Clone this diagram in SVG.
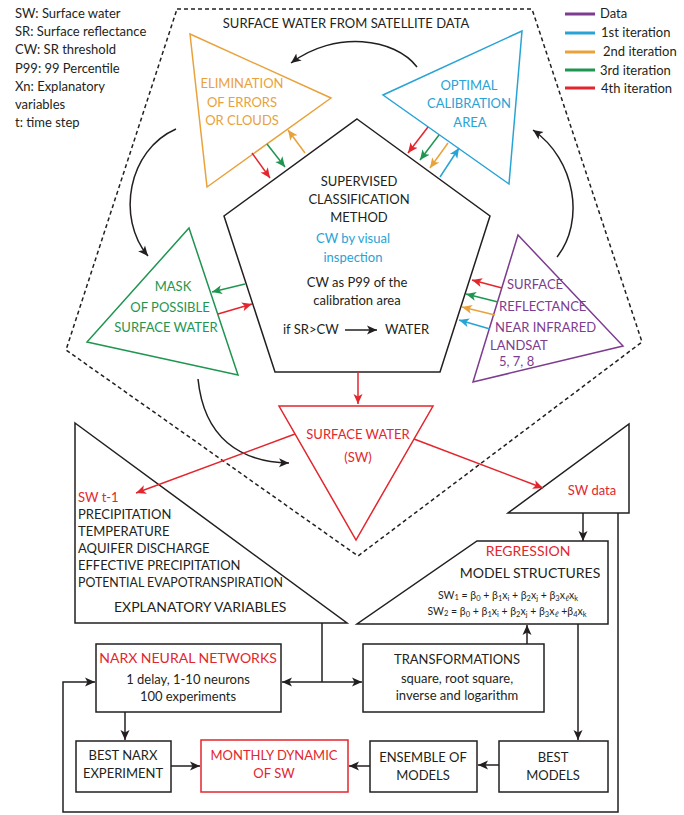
<svg xmlns="http://www.w3.org/2000/svg" width="684" height="815" viewBox="0 0 684 815">
<defs>
<style>
.t{font-family:Lato,"Open Sans","Liberation Sans",sans-serif;font-size:13px;fill:#231f20}
.c{text-anchor:middle}
.k{fill:#231f20}.pu{fill:#7d3c8f}.bl{fill:#27a3d6}.or{fill:#e9a23b}.gr{fill:#1e9650}.rd{fill:#e3262d}
.sh{fill:#fff;stroke-width:1.5}
.ln{fill:none;stroke-width:1.5}
.eq{font-size:10.5px}
.sb{font-size:7.5px}
</style>
<marker id="ak" viewBox="0 0 10 10" refX="10" refY="5" markerWidth="10" markerHeight="10" markerUnits="userSpaceOnUse" orient="auto"><path d="M0,0.5 L10,5 L0,9.5 L2.5,5 z" fill="#231f20"/></marker>
<marker id="ar" viewBox="0 0 10 10" refX="10" refY="5" markerWidth="10" markerHeight="10" markerUnits="userSpaceOnUse" orient="auto"><path d="M0,0.5 L10,5 L0,9.5 L2.5,5 z" fill="#e3262d"/></marker>
<marker id="ag" viewBox="0 0 10 10" refX="10" refY="5" markerWidth="10" markerHeight="10" markerUnits="userSpaceOnUse" orient="auto"><path d="M0,0.5 L10,5 L0,9.5 L2.5,5 z" fill="#1e9650"/></marker>
<marker id="ao" viewBox="0 0 10 10" refX="10" refY="5" markerWidth="10" markerHeight="10" markerUnits="userSpaceOnUse" orient="auto"><path d="M0,0.5 L10,5 L0,9.5 L2.5,5 z" fill="#e9a23b"/></marker>
<marker id="ab" viewBox="0 0 10 10" refX="10" refY="5" markerWidth="10" markerHeight="10" markerUnits="userSpaceOnUse" orient="auto"><path d="M0,0.5 L10,5 L0,9.5 L2.5,5 z" fill="#27a3d6"/></marker>
</defs>
<rect width="684" height="815" fill="#fff"/>

<g id="legend-abbrev">
<text class="t" x="15" y="18">SW: Surface water</text>
<text class="t" x="15" y="36">SR: Surface reflectance</text>
<text class="t" x="15" y="54">CW: SR threshold</text>
<text class="t" x="15" y="73">P99: 99 Percentile</text>
<text class="t" x="15" y="91">Xn: Explanatory</text>
<text class="t" x="15" y="109">variables</text>
<text class="t" x="15" y="127">t: time step</text>
</g>

<g id="legend-colors">
<line x1="565" y1="14" x2="595" y2="14" stroke="#7d3c8f" stroke-width="3"/>
<line x1="565" y1="33" x2="595" y2="33" stroke="#27a3d6" stroke-width="3"/>
<line x1="565" y1="52" x2="595" y2="52" stroke="#e9a23b" stroke-width="3"/>
<line x1="565" y1="70" x2="595" y2="70" stroke="#1e9650" stroke-width="3"/>
<line x1="565" y1="88" x2="595" y2="88" stroke="#e3262d" stroke-width="3"/>
<text class="t" x="600" y="18">Data</text>
<text class="t" x="601" y="37">1st iteration</text>
<text class="t" x="603" y="56">2nd iteration</text>
<text class="t" x="600" y="75">3rd iteration</text>
<text class="t" x="601" y="93">4th iteration</text>
</g>

<g id="satellite-frame">
<polygon points="177,9 532,9 642,342 358,556 66,350" fill="none" stroke="#231f20" stroke-width="1.5" stroke-dasharray="4 3"/>
<text class="t c" x="346" y="28">SURFACE WATER FROM SATELLITE DATA</text>
</g>

<g id="elimination">
<polygon class="sh" points="190,34 331,98 207,187" stroke="#e9a23b"/>
<text class="t c or" x="242" y="88">ELIMINATION</text>
<text class="t c or" x="242" y="107">OF ERRORS</text>
<text class="t c or" x="242" y="125">OR CLOUDS</text>
</g>

<g id="optimal">
<polygon class="sh" points="522,31 383,95 509,184" stroke="#27a3d6"/>
<text class="t c bl" x="469" y="90">OPTIMAL</text>
<text class="t c bl" x="469" y="108">CALIBRATION</text>
<text class="t c bl" x="470" y="127">AREA</text>
</g>

<g id="classification">
<polygon class="sh" points="357,119 490,216 440,372 275,372 224,216" stroke="#231f20"/>
<text class="t c" x="359" y="186">SUPERVISED</text>
<text class="t c" x="359" y="204">CLASSIFICATION</text>
<text class="t c" x="359" y="222">METHOD</text>
<text class="t c bl" x="353" y="243">CW by visual</text>
<text class="t c bl" x="353" y="262">inspection</text>
<text class="t c" x="357" y="287">CW as P99 of the</text>
<text class="t c" x="357" y="305">calibration area</text>
<text class="t" x="283" y="334">if SR&gt;CW</text>
<line x1="345" y1="330" x2="377" y2="330" stroke="#231f20" stroke-width="1.5" marker-end="url(#ak)"/>
<text class="t" x="385" y="334">WATER</text>
</g>

<g id="mask">
<polygon class="sh" points="189,228 238,375 87,342" stroke="#1e9650"/>
<text class="t c gr" x="173" y="291">MASK</text>
<text class="t c gr" x="170" y="312">OF POSSIBLE</text>
<text class="t c gr" x="166" y="332">SURFACE WATER</text>
</g>

<g id="reflectance">
<polygon class="sh" points="518,235 623,346 473,382" stroke="#7d3c8f"/>
<text class="t pu" x="507" y="289">SURFACE</text>
<text class="t pu" x="499" y="311">REFLECTANCE</text>
<text class="t pu" x="495" y="332">NEAR INFRARED</text>
<text class="t pu" x="490" y="350">LANDSAT</text>
<text class="t pu" x="499" y="366">5, 7, 8</text>
</g>

<g id="surface-water">
<polygon class="sh" points="279,406 433,406 356,540" stroke="#e3262d"/>
<text class="t c rd" x="358" y="439">SURFACE WATER</text>
<text class="t c rd" x="358" y="462">(SW)</text>
</g>

<g id="sw-data">
<polygon class="sh" points="629,424 629,513 508,513" stroke="#231f20"/>
<text class="t c rd" x="592" y="495">SW data</text>
</g>

<g id="explanatory">
<polygon class="sh" points="75,423 347,623 75,623" stroke="#231f20"/>
<text class="t rd" x="78" y="502">SW t-1</text>
<text class="t" x="78" y="519">PRECIPITATION</text>
<text class="t" x="78" y="536">TEMPERATURE</text>
<text class="t" x="78" y="553">AQUIFER DISCHARGE</text>
<text class="t" x="78" y="570">EFFECTIVE PRECIPITATION</text>
<text class="t" x="78" y="587" textLength="205" lengthAdjust="spacingAndGlyphs">POTENTIAL EVAPOTRANSPIRATION</text>
<text class="t" x="114" y="612" style="font-size:14px">EXPLANATORY VARIABLES</text>
</g>

<g id="regression">
<polygon class="sh" points="477,541 608,541 608,624 357,624" stroke="#231f20"/>
<text class="t c rd" x="528" y="556" style="font-size:14px">REGRESSION</text>
<text class="t c" x="530" y="578" style="font-size:14px">MODEL STRUCTURES</text>
<text class="t c eq" x="508" y="599">SW<tspan class="sb" dy="1">1</tspan><tspan dy="-1"> = β</tspan><tspan class="sb" dy="1.5">0</tspan><tspan dy="-1.5"> + β</tspan><tspan class="sb" dy="1.5">1</tspan><tspan dy="-1.5">x</tspan><tspan class="sb" dy="1.5">i</tspan><tspan dy="-1.5"> + β</tspan><tspan class="sb" dy="1.5">2</tspan><tspan dy="-1.5">x</tspan><tspan class="sb" dy="1.5">j</tspan><tspan dy="-1.5"> + β</tspan><tspan class="sb" dy="1.5">3</tspan><tspan dy="-1.5">x</tspan><tspan class="sb" dy="1.5">ℓ</tspan><tspan dy="-1.5">x</tspan><tspan class="sb" dy="1.5">k</tspan></text>
<text class="t c eq" x="507" y="615">SW<tspan class="sb" dy="1">2</tspan><tspan dy="-1"> = β</tspan><tspan class="sb" dy="1.5">0</tspan><tspan dy="-1.5"> + β</tspan><tspan class="sb" dy="1.5">1</tspan><tspan dy="-1.5">x</tspan><tspan class="sb" dy="1.5">i</tspan><tspan dy="-1.5"> + β</tspan><tspan class="sb" dy="1.5">2</tspan><tspan dy="-1.5">x</tspan><tspan class="sb" dy="1.5">j</tspan><tspan dy="-1.5"> + β</tspan><tspan class="sb" dy="1.5">3</tspan><tspan dy="-1.5">x</tspan><tspan class="sb" dy="1.5">ℓ</tspan><tspan dy="-1.5"> +β</tspan><tspan class="sb" dy="1.5">4</tspan><tspan dy="-1.5">x</tspan><tspan class="sb" dy="1.5">k</tspan></text>
</g>

<g id="narx">
<rect class="sh" x="96" y="644" width="185" height="68" stroke="#231f20"/>
<text class="t c rd" x="188" y="663" style="font-size:14px">NARX NEURAL NETWORKS</text>
<text class="t c" x="188" y="684">1 delay, 1-10 neurons</text>
<text class="t c" x="188" y="701">100 experiments</text>
</g>

<g id="transformations">
<rect class="sh" x="363" y="644" width="181" height="68" stroke="#231f20"/>
<text class="t c" x="457" y="664">TRANSFORMATIONS</text>
<text class="t c" x="457" y="683">square, root square,</text>
<text class="t c" x="457" y="700">inverse and logarithm</text>
</g>

<g id="best-narx">
<rect class="sh" x="76" y="741" width="95" height="51" stroke="#231f20"/>
<text class="t c" x="123" y="760">BEST NARX</text>
<text class="t c" x="123" y="778">EXPERIMENT</text>
</g>

<g id="monthly">
<rect class="sh" x="201" y="740" width="147" height="52" stroke="#e3262d"/>
<text class="t c rd" x="274" y="760">MONTHLY DYNAMIC</text>
<text class="t c rd" x="274" y="778">OF SW</text>
</g>

<g id="ensemble">
<rect class="sh" x="370" y="741" width="107" height="51" stroke="#231f20"/>
<text class="t c" x="423" y="762">ENSEMBLE OF</text>
<text class="t c" x="423" y="780">MODELS</text>
</g>

<g id="best-models">
<rect class="sh" x="499" y="741" width="109" height="51" stroke="#231f20"/>
<text class="t c" x="553" y="762">BEST</text>
<text class="t c" x="553" y="780">MODELS</text>
</g>

<g id="connectors">
<path class="ln" stroke="#231f20" d="M417,67 C395,38 335,30 291,63" marker-end="url(#ak)"/>
<path class="ln" stroke="#231f20" d="M176,129 C128,150 116,218 148,256" marker-end="url(#ak)"/>
<path class="ln" stroke="#231f20" d="M198,379 C204,438 240,462 289,463" marker-end="url(#ak)"/>
<path class="ln" stroke="#231f20" d="M557,257 C585,222 576,160 533,130" marker-end="url(#ak)"/>
<line class="ln" stroke="#e3262d" x1="252" y1="153" x2="270" y2="178" marker-end="url(#ar)"/>
<line class="ln" stroke="#1e9650" x1="267" y1="144" x2="285" y2="167" marker-end="url(#ag)"/>
<line class="ln" stroke="#e9a23b" x1="305" y1="153" x2="288" y2="130" marker-end="url(#ao)"/>
<line class="ln" stroke="#e3262d" x1="428" y1="127" x2="408" y2="153" marker-end="url(#ar)"/>
<line class="ln" stroke="#1e9650" x1="439" y1="135" x2="420" y2="160" marker-end="url(#ag)"/>
<line class="ln" stroke="#e9a23b" x1="448" y1="143" x2="430" y2="168" marker-end="url(#ao)"/>
<line class="ln" stroke="#27a3d6" x1="440" y1="177" x2="459" y2="148" marker-end="url(#ab)"/>
<line class="ln" stroke="#1e9650" x1="245" y1="284" x2="212" y2="292" marker-end="url(#ag)"/>
<line class="ln" stroke="#e3262d" x1="218" y1="314" x2="252" y2="304" marker-end="url(#ar)"/>
<line class="ln" stroke="#e3262d" x1="502" y1="288" x2="472" y2="280" marker-end="url(#ar)"/>
<line class="ln" stroke="#1e9650" x1="498" y1="302" x2="466" y2="294" marker-end="url(#ag)"/>
<line class="ln" stroke="#e9a23b" x1="495" y1="315" x2="462" y2="307" marker-end="url(#ao)"/>
<line class="ln" stroke="#27a3d6" x1="490" y1="329" x2="459" y2="320" marker-end="url(#ab)"/>
<line class="ln" stroke="#e3262d" x1="358" y1="372" x2="358" y2="404" marker-end="url(#ar)"/>
<line class="ln" stroke="#e3262d" x1="295" y1="434" x2="136" y2="493" marker-end="url(#ar)"/>
<line class="ln" stroke="#e3262d" x1="414" y1="439" x2="543" y2="488" marker-end="url(#ar)"/>
<line class="ln" stroke="#231f20" x1="583" y1="513" x2="583" y2="541" marker-end="url(#ak)"/>
<polyline class="ln" stroke="#231f20" points="618,513 618,812 63,812 63,682 95,682" marker-end="url(#ak)"/>
<line class="ln" stroke="#231f20" x1="322" y1="623" x2="322" y2="682"/>
<line class="ln" stroke="#231f20" x1="322" y1="682" x2="282" y2="682" marker-end="url(#ak)"/>
<line class="ln" stroke="#231f20" x1="322" y1="682" x2="362" y2="682" marker-end="url(#ak)"/>
<line class="ln" stroke="#231f20" x1="527" y1="644" x2="527" y2="625" marker-end="url(#ak)"/>
<line class="ln" stroke="#231f20" x1="578" y1="624" x2="578" y2="740" marker-end="url(#ak)"/>
<line class="ln" stroke="#231f20" x1="125" y1="712" x2="125" y2="740" marker-end="url(#ak)"/>
<line class="ln" stroke="#231f20" x1="171" y1="766" x2="200" y2="766" marker-end="url(#ak)"/>
<line class="ln" stroke="#231f20" x1="499" y1="765" x2="478" y2="765" marker-end="url(#ak)"/>
<line class="ln" stroke="#231f20" x1="370" y1="766" x2="349" y2="766" marker-end="url(#ak)"/>
</g>
</svg>
